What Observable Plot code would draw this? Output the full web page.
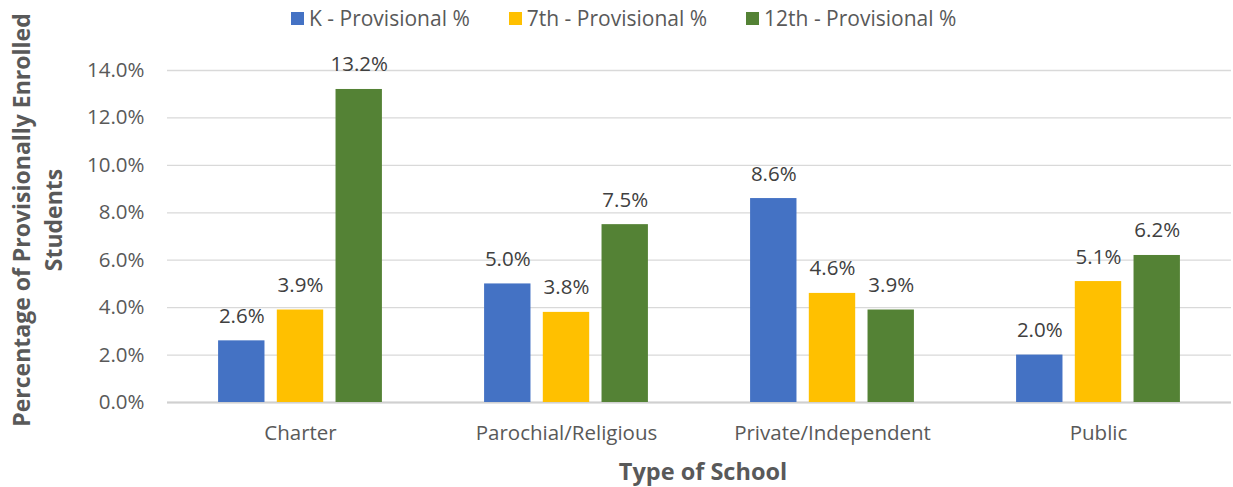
<!DOCTYPE html>
<html>
<head>
<meta charset="utf-8">
<script src="https://cdn.jsdelivr.net/npm/d3@7"></script>
<script src="https://cdn.jsdelivr.net/npm/@observablehq/plot@0.6"></script>
<style>
  html, body { margin: 0; padding: 0; background: #fff; }
  #chart { width: 1233px; font-family: "Open Sans", sans-serif; }
  .legend { height: 36px; display: flex; align-items: center; padding-left: 291px; box-sizing: border-box;
            font-family: "Open Sans", sans-serif; font-size: 21px; color: #595959; white-space: nowrap; }
  .legend .item { display: flex; align-items: center; margin-right: 39px; }
  .legend .sw { width: 13px; height: 13px; margin-right: 5px; display: inline-block; }
</style>
</head>
<body>
<div id="chart"></div>
<script>
const categories = ["Charter", "Parochial/Religious", "Private/Independent", "Public"];
const seriesNames = ["K - Provisional %", "7th - Provisional %", "12th - Provisional %"];
const kValues = [2.6, 5.0, 8.6, 2.0];
const seventhValues = [3.9, 3.8, 4.6, 5.1];
const twelfthValues = [13.2, 7.5, 3.9, 6.2];
const yTicks = [0, 2, 4, 6, 8, 10, 12, 14];
const colors = ["#4472C4", "#FFC000", "#548235"];
const yTitle = ["Percentage of Provisionally Enrolled", "Students"];
const xTitle = "Type of School";

const seriesValues = [kValues, seventhValues, twelfthValues];
const data = [];
categories.forEach((c, i) => {
  seriesNames.forEach((s, j) => {
    data.push({school: c, series: s, value: seriesValues[j][i]});
  });
});

const root = d3.select("#chart");

// Legend
const legend = root.append("div").attr("class", "legend");
seriesNames.forEach((s, j) => {
  const it = legend.append("div").attr("class", "item");
  it.append("span").attr("class", "sw").style("background", colors[j]);
  it.append("span").text(s);
});

const chart = Plot.plot({
  width: 1233,
  height: 451,
  marginLeft: 165,
  marginRight: 1,
  marginTop: 34,
  marginBottom: 85,
  style: {fontFamily: "Open Sans, sans-serif", fontSize: "20.5px", color: "#595959", background: "white", overflow: "visible"},
  fx: {domain: categories, padding: 0, label: null},
  x: {domain: seriesNames, paddingInner: 0.21, paddingOuter: 0.87, round: false, axis: null},
  y: {domain: [0, 14], label: null},
  color: {domain: seriesNames, range: colors},
  marks: [
    Plot.gridY(yTicks, {stroke: "#d9d9d9", strokeOpacity: 1, strokeWidth: 1.3}),
    Plot.ruleY([0], {stroke: "#d0d0d0", strokeWidth: 2}),
    Plot.barY(data, {fx: "school", x: "series", y: "value", fill: "series"}),
    Plot.text(data, {fx: "school", x: "series", y: "value", text: d => d.value.toFixed(1) + "%",
      dy: -18, lineAnchor: "bottom", fill: "#404040", fontSize: 20.5}),
    Plot.axisY({ticks: yTicks, tickFormat: d => d.toFixed(1) + "%", tickSize: 0, tickPadding: 23, label: null, fontSize: 20.5}),
    Plot.axisFx({anchor: "bottom", tickSize: 0, tickPadding: 23, label: null, fontSize: 20.5})
  ]
});

const svg = d3.select(chart);
const yt = svg.append("g")
  .attr("font-family", "Open Sans, sans-serif")
  .attr("font-weight", "bold")
  .attr("font-size", 23)
  .attr("fill", "#595959")
  .attr("text-anchor", "middle");
yt.append("text").attr("transform", "translate(30,184) rotate(-90)").text(yTitle[0]);
yt.append("text").attr("transform", "translate(62,184) rotate(-90)").text(yTitle[1]);
svg.append("text")
  .attr("x", 703).attr("y", 444)
  .attr("font-family", "Open Sans, sans-serif")
  .attr("font-weight", "bold")
  .attr("font-size", 23.5)
  .attr("fill", "#595959")
  .attr("text-anchor", "middle")
  .text(xTitle);

root.node().appendChild(chart);
</script>
</body>
</html>
